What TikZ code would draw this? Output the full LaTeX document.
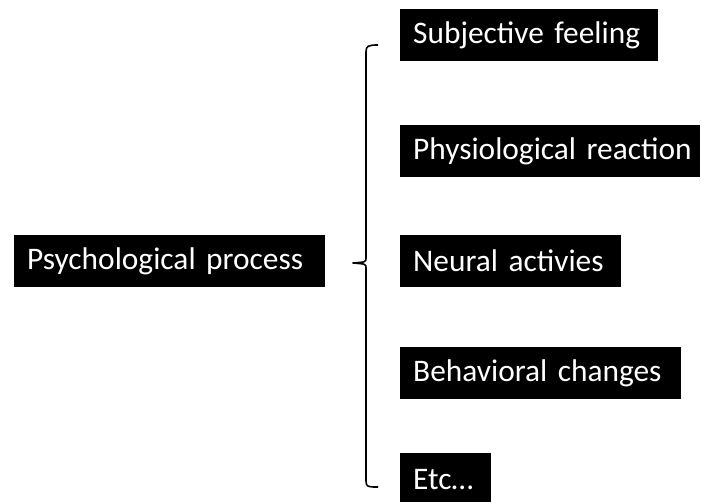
\documentclass[tikz,border=0pt]{standalone}
\usepackage{fontspec}
\setmainfont{Carlito}
\begin{document}
\begin{tikzpicture}[x=1bp,y=-1bp,
  box/.style={fill=black, text=white, anchor=north west, align=left,
    inner xsep=0pt, inner ysep=0pt, minimum height=52bp,
    execute at begin node={\hspace*{13bp}},
    font=\fontsize{31.5}{36}\selectfont},
  bracestyle/.style={draw=black, line width=1.6bp, line join=round}]
\useasboundingbox (0,0) rectangle (701,502);
\node[box, text width=311bp] (psy) at (14,235) {Psychological process};
\node[box, text width=258bp] (subj) at (400,9) {Subjective feeling};
\node[box, text width=300bp] (phys) at (400,125) {Physiological reaction};
\node[box, text width=221bp] (neur) at (400,235) {Neural activies};
\node[box, text width=281bp] (beh) at (400,347) {Behavioral changes};
\node[box, text width=91bp] (etc) at (400,453) {Etc…};
\coordinate (btop) at (378,45);
\coordinate (bbot) at (378,487);
\coordinate (tip) at (353,263);
\draw[bracestyle] (btop) .. controls (368,45) and (366,46) .. (366,52)
  -- (366,258) .. controls (366,262) .. (tip)
  .. controls (366,264) .. (366,268)
  -- (366,481) .. controls (366,487) and (368,487) .. (bbot);
\end{tikzpicture}
\end{document}
